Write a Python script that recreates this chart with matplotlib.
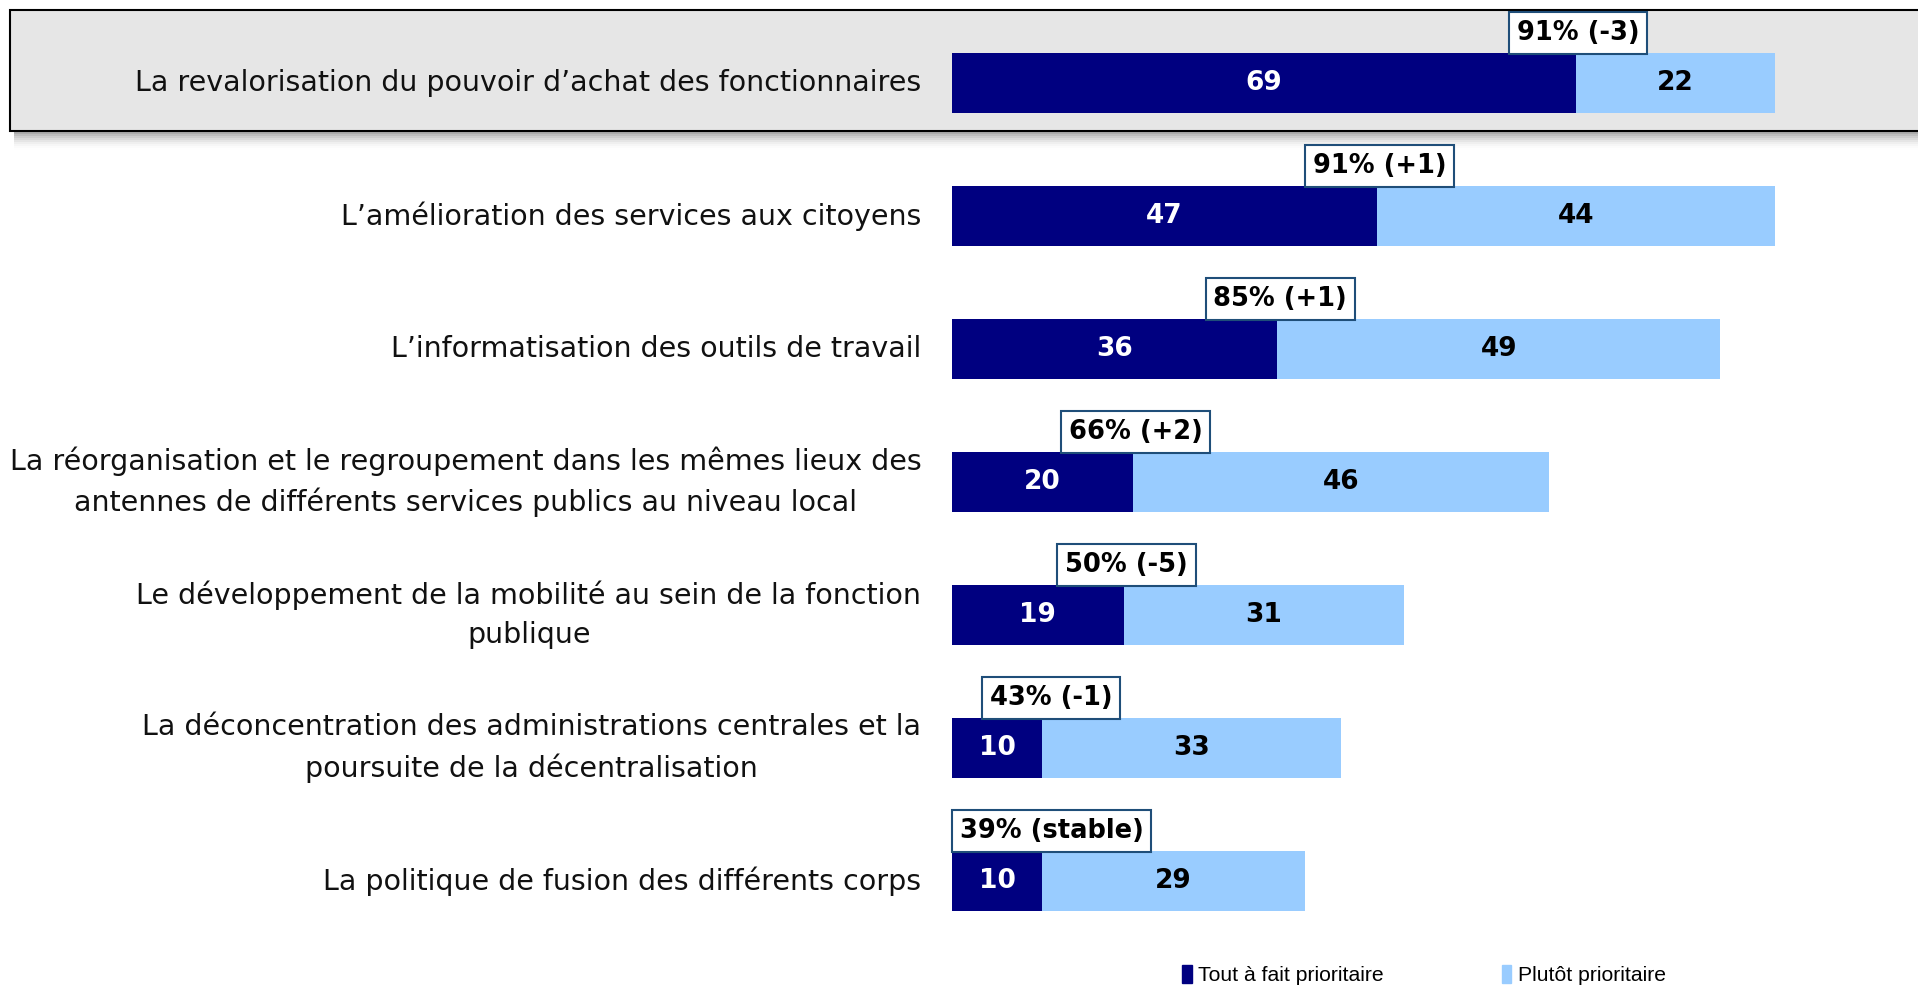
import matplotlib.pyplot as plt
from matplotlib.patches import Rectangle, Patch

categories = [
    "La revalorisation du pouvoir d\u2019achat des fonctionnaires",
    "L\u2019am\u00e9lioration des services aux citoyens",
    "L\u2019informatisation des outils de travail",
    "La r\u00e9organisation et le regroupement dans les m\u00eames lieux des\nantennes de diff\u00e9rents services publics au niveau local",
    "Le d\u00e9veloppement de la mobilit\u00e9 au sein de la fonction\npublique",
    "La d\u00e9concentration des administrations centrales et la\npoursuite de la d\u00e9centralisation",
    "La politique de fusion des diff\u00e9rents corps",
]
tout_a_fait = [69, 47, 36, 20, 19, 10, 10]
plutot = [22, 44, 49, 46, 31, 33, 29]
totals = ["91% (-3)", "91% (+1)", "85% (+1)", "66% (+2)", "50% (-5)", "43% (-1)", "39% (stable)"]

dark = "#000080"
light = "#99CCFF"

W, H = 1918, 990
fig = plt.figure(figsize=(W / 100, H / 100), dpi=100)
fig.patch.set_facecolor("white")

# highlighted first row with shadow
for k in range(10):
    fig.patches.append(Rectangle((14 / W, 1 - (131 + 1 + k * 2) / H), 1, 2 / H,
                                 transform=fig.transFigure, facecolor="black",
                                 alpha=0.4 * (1 - k / 10) ** 2, edgecolor="none", zorder=0))
fig.patches.append(Rectangle((10 / W, 1 - 131 / H), 1.0, 121 / H, transform=fig.transFigure,
                             facecolor="#E6E6E6", edgecolor="black", linewidth=1.5, zorder=0))

x0 = 952 / W
ax = fig.add_axes([x0, 0, 1 - x0, 1])
ax.set_zorder(2)
ax.patch.set_alpha(0)
px = 9.04
ax.set_xlim(0, (W - 952) / px)
ax.set_ylim((H - 83) / 133, -83 / 133)
ax.axis("off")

ys = list(range(len(categories)))
h = 0.45
b1 = ax.barh(ys, tout_a_fait, height=h, color=dark, label="Tout \u00e0 fait prioritaire")
b2 = ax.barh(ys, plutot, left=tout_a_fait, height=h, color=light, label="Plut\u00f4t prioritaire")

for y, a, b, lab, t in zip(ys, tout_a_fait, plutot, categories, totals):
    ax.text(a / 2, y, str(a), ha="center", va="center", color="white",
            fontsize=19, fontweight="bold")
    ax.text(a + b / 2, y, str(b), ha="center", va="center", color="black",
            fontsize=19, fontweight="bold")
    ax.text(-3.4, y, lab, ha="right", va="center", multialignment="center",
            fontsize=20.5, color="#111111", linespacing=1.5)
    ax.text(max(a + 0.3, 11), y - h / 2 - 0.15, t, ha="center", va="center",
            fontsize=18.5, fontweight="bold", color="black",
            bbox=dict(boxstyle="square,pad=0.3", facecolor="white",
                      edgecolor="#1F4E79", linewidth=1.5))

handles = [Patch(color=dark), Patch(color=light)]
fig.legend(handles, ["Tout \u00e0 fait prioritaire", "Plut\u00f4t prioritaire"],
           loc="center left", bbox_to_anchor=(1163 / W, 1 - 975 / H), ncol=2,
           frameon=False, handlelength=0.45, handleheight=0.9, handletextpad=0.3,
           columnspacing=5.6,
           prop={"family": "Liberation Sans", "size": 15.2})

fig.savefig("out.png", dpi=100)
